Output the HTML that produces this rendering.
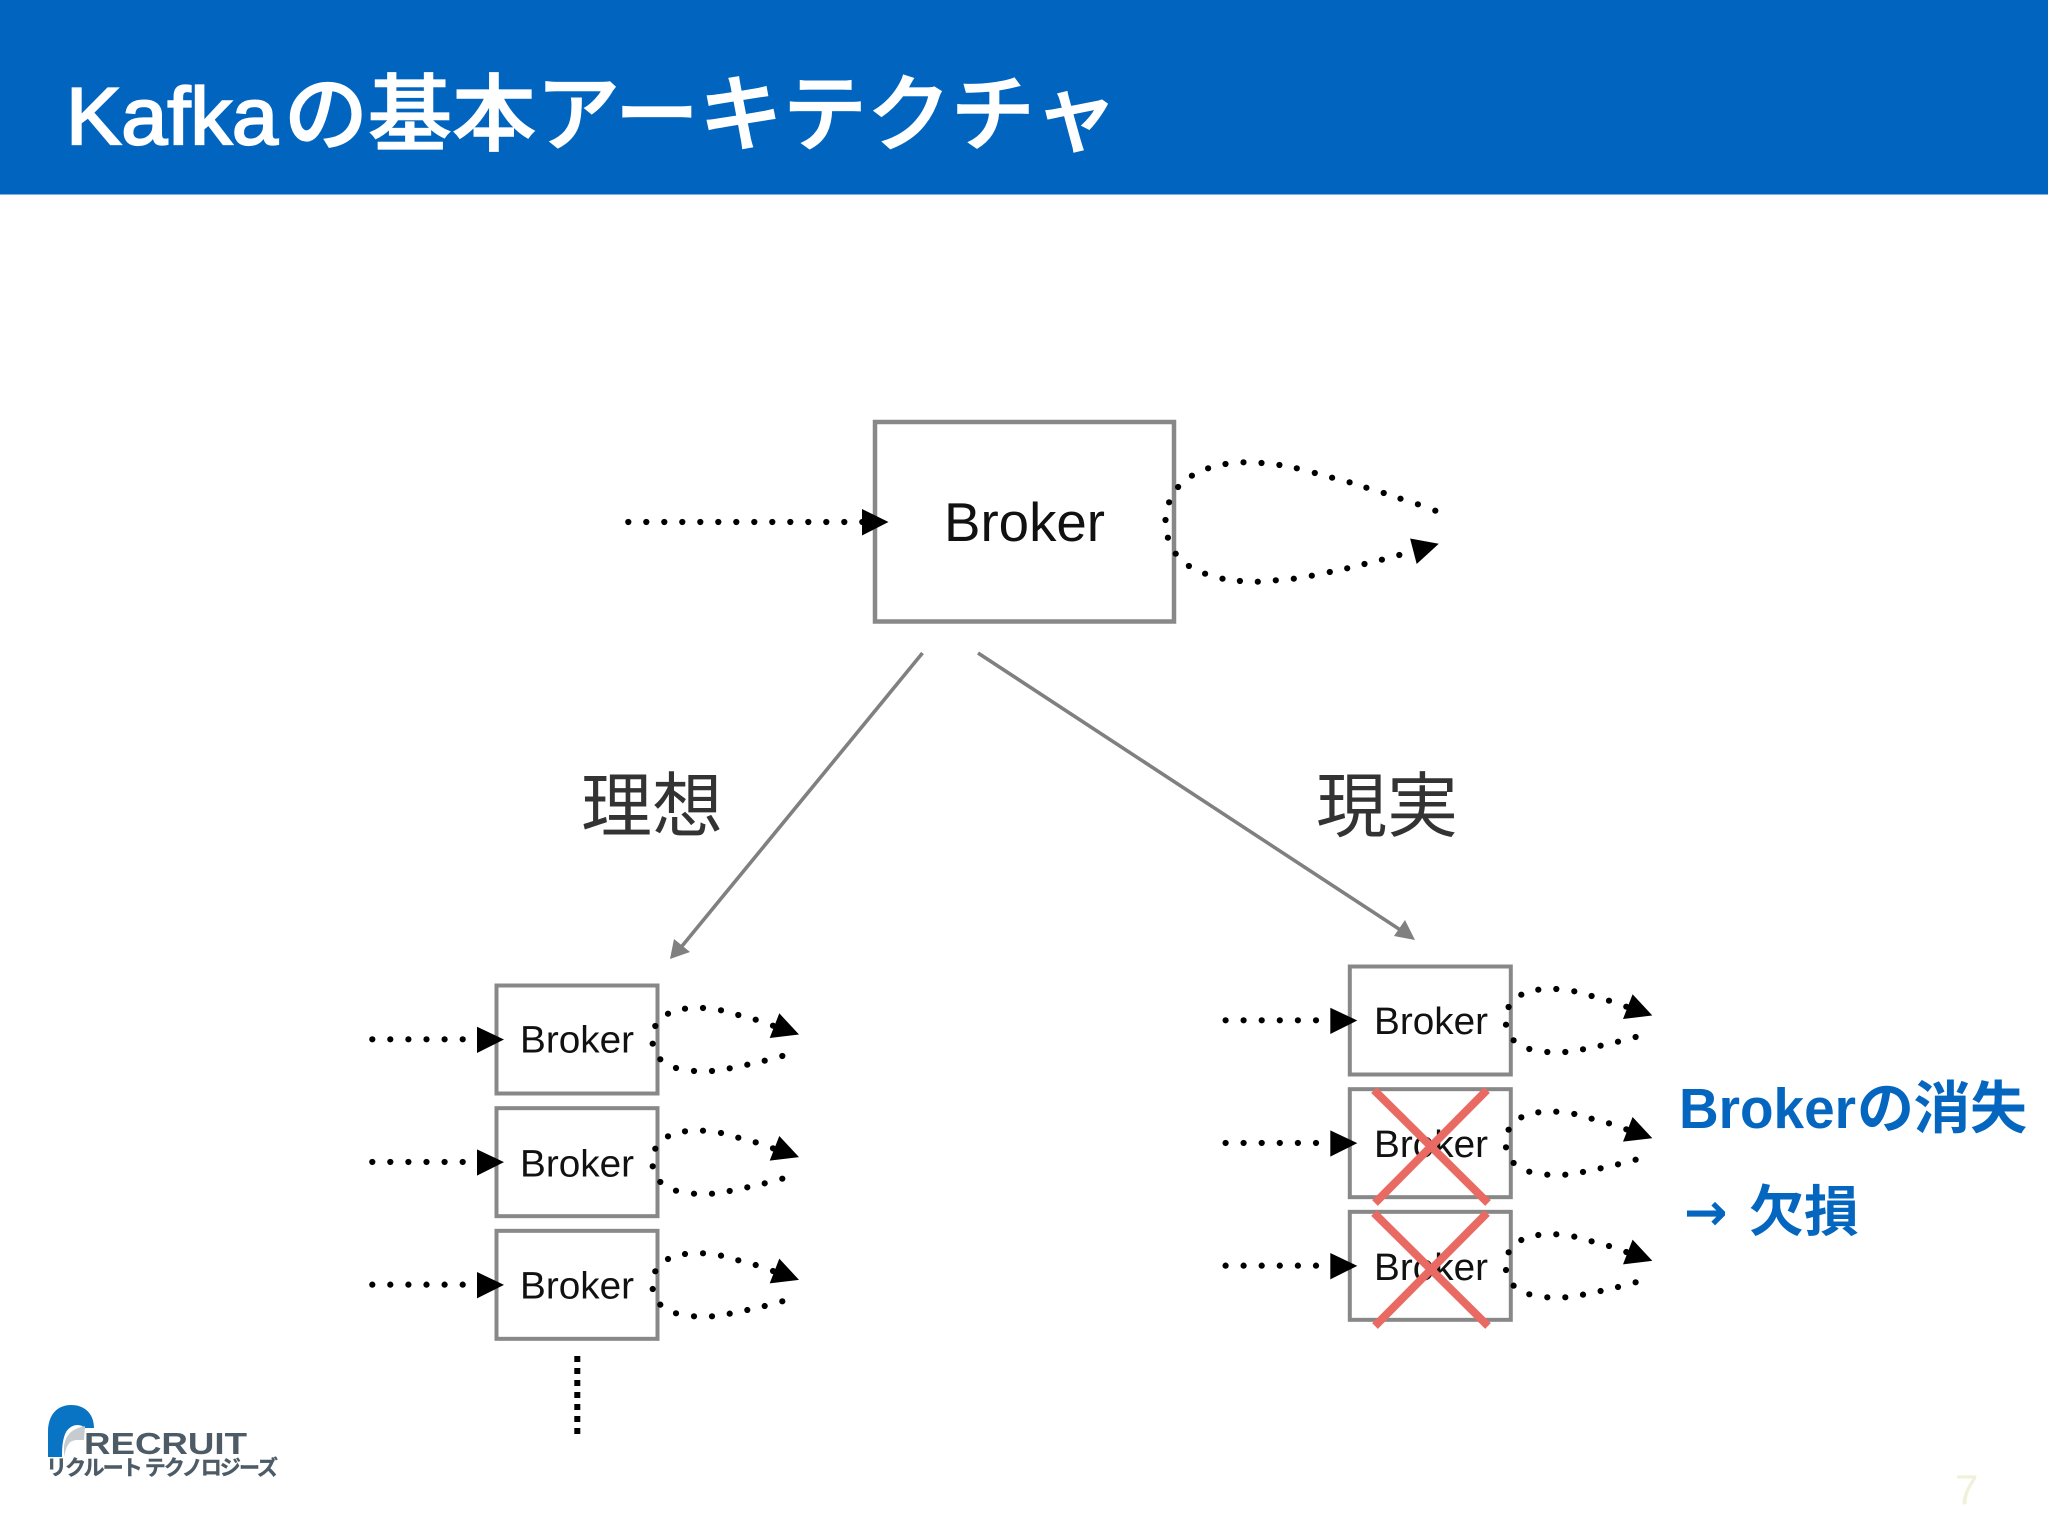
<!DOCTYPE html>
<html lang="ja"><head><meta charset="utf-8"><title>Kafkaの基本アーキテクチャ</title>
<style>
html,body{margin:0;padding:0;background:#fff;width:2048px;height:1536px;overflow:hidden}
svg{display:block}
text{font-family:"Liberation Sans","Noto Sans CJK JP",sans-serif}
</style></head><body>
<svg width="2048" height="1536" viewBox="0 0 2048 1536" xmlns="http://www.w3.org/2000/svg">
<defs>
<g id="row">
  <rect x="496.5" y="985.5" width="161" height="108" fill="#fff" stroke="#888" stroke-width="4"/>
  <g fill="#000">
    <circle cx="372.3" cy="1039.3" r="3.1"/><circle cx="390.3" cy="1039.3" r="3.1"/><circle cx="408.4" cy="1039.3" r="3.1"/><circle cx="426.5" cy="1039.3" r="3.1"/><circle cx="444.6" cy="1039.3" r="3.1"/><circle cx="462.7" cy="1039.3" r="3.1"/>
    <polygon points="477,1026.7 504,1039.5 477,1053"/>
    <circle cx="655.3" cy="1026" r="3.1"/><circle cx="652.7" cy="1043.7" r="3.1"/><circle cx="660.3" cy="1059.3" r="3.1"/><circle cx="676" cy="1068" r="3.1"/><circle cx="694" cy="1071" r="3.1"/><circle cx="712" cy="1071" r="3.1"/><circle cx="729.7" cy="1068.3" r="3.1"/><circle cx="747.3" cy="1064.7" r="3.1"/><circle cx="764.7" cy="1060.7" r="3.1"/><circle cx="782.3" cy="1056" r="3.1"/>
    <circle cx="668" cy="1013.7" r="3.1"/><circle cx="685" cy="1008.7" r="3.1"/><circle cx="703" cy="1008" r="3.1"/><circle cx="721" cy="1010.3" r="3.1"/><circle cx="738.3" cy="1015" r="3.1"/><circle cx="755.7" cy="1019.7" r="3.1"/><circle cx="773" cy="1025.7" r="3.1"/>
    <polygon points="779.3,1013.3 799,1034.5 769.7,1038"/>
  </g>
</g>
</defs>

<rect x="0" y="0" width="2048" height="194.5" fill="#0165c0"/>
<text y="144" fill="#fff" font-size="81" stroke="#fff" stroke-width="2.2"><tspan x="66" textLength="212" lengthAdjust="spacingAndGlyphs">Kafka</tspan></text>
<text x="284" y="144" fill="#fff" stroke="#fff" stroke-width="1.3" font-size="84" font-weight="500" textLength="834" lengthAdjust="spacing">の基本アーキテクチャ</text>

<rect x="875" y="422" width="299" height="199.5" fill="#fff" stroke="#888" stroke-width="4.5"/>
<text x="944" y="541" font-size="54.6" fill="#111" textLength="161" lengthAdjust="spacingAndGlyphs">Broker</text>
<g fill="#000">
<circle cx="628.3" cy="522" r="3.1"/><circle cx="646.3" cy="522" r="3.1"/><circle cx="664.3" cy="522" r="3.1"/><circle cx="682.3" cy="522" r="3.1"/><circle cx="700.3" cy="522" r="3.1"/><circle cx="718.3" cy="522" r="3.1"/><circle cx="736.3" cy="522" r="3.1"/><circle cx="754.3" cy="522" r="3.1"/><circle cx="772.3" cy="522" r="3.1"/><circle cx="790.3" cy="522" r="3.1"/><circle cx="808.3" cy="522" r="3.1"/><circle cx="826.3" cy="522" r="3.1"/><circle cx="844.3" cy="522" r="3.1"/><circle cx="862.3" cy="522" r="3.1"/>
<polygon points="862,509 888.5,522 862,535.5"/>
<circle cx="1178.1" cy="487" r="3.1"/><circle cx="1169.1" cy="502.3" r="3.1"/><circle cx="1165.5" cy="520" r="3.1"/><circle cx="1167.9" cy="537.7" r="3.1"/><circle cx="1175.7" cy="553.7" r="3.1"/><circle cx="1188.9" cy="566" r="3.1"/><circle cx="1205.1" cy="573.7" r="3.1"/><circle cx="1222.5" cy="578.7" r="3.1"/><circle cx="1239.9" cy="581" r="3.1"/><circle cx="1257.8" cy="581.7" r="3.1"/><circle cx="1275.8" cy="580.3" r="3.1"/><circle cx="1293.8" cy="578.7" r="3.1"/><circle cx="1311.8" cy="575.7" r="3.1"/><circle cx="1329.8" cy="572" r="3.1"/><circle cx="1347.2" cy="568.3" r="3.1"/><circle cx="1364.5" cy="564" r="3.1"/><circle cx="1381.9" cy="559.7" r="3.1"/><circle cx="1399.3" cy="555" r="3.1"/>
<circle cx="1191.9" cy="475.7" r="3.1"/><circle cx="1208.1" cy="468.3" r="3.1"/><circle cx="1225.5" cy="464" r="3.1"/><circle cx="1243.5" cy="462.3" r="3.1"/><circle cx="1261.5" cy="463" r="3.1"/><circle cx="1279.4" cy="465" r="3.1"/><circle cx="1296.8" cy="468.3" r="3.1"/><circle cx="1314.8" cy="473" r="3.1"/><circle cx="1332.1" cy="477.7" r="3.1"/><circle cx="1349.6" cy="482.3" r="3.1"/><circle cx="1366.4" cy="487.7" r="3.1"/><circle cx="1383.7" cy="493" r="3.1"/><circle cx="1400.5" cy="498.7" r="3.1"/><circle cx="1417.9" cy="504.3" r="3.1"/><circle cx="1435.3" cy="510.7" r="3.1"/>
<polygon points="1410.1,538.5 1438.8,543.7 1416.7,564"/>
</g>

<g stroke="#808080" stroke-width="3.6" fill="none">
<line x1="922.5" y1="653" x2="678" y2="951"/>
<line x1="978" y1="653" x2="1405" y2="933"/>
</g>
<polygon points="670,959 674,939 690,952" fill="#808080"/>
<polygon points="1415,940 1394,936 1405,920" fill="#808080"/>

<text x="581" y="831" font-size="71" fill="#333">理想</text>
<text x="1316" y="831" font-size="71" fill="#333">現実</text>

<use href="#row"/>
<use href="#row" transform="translate(0,122.67)"/>
<use href="#row" transform="translate(0,245.33)"/>
<text x="520" y="1052.5" font-size="38" fill="#111" textLength="114" lengthAdjust="spacingAndGlyphs">Broker</text>
<text x="520" y="1176.5" font-size="38" fill="#111" textLength="114" lengthAdjust="spacingAndGlyphs">Broker</text>
<text x="520" y="1298.5" font-size="38" fill="#111" textLength="114" lengthAdjust="spacingAndGlyphs">Broker</text>
<line x1="577.3" y1="1356" x2="577.3" y2="1434" stroke="#000" stroke-width="6" stroke-dasharray="6 6"/>

<use href="#row" transform="translate(853.3,-19)"/>
<use href="#row" transform="translate(853.3,103.67)"/>
<use href="#row" transform="translate(853.3,226.33)"/>
<text x="1374" y="1034" font-size="38" fill="#111" textLength="114" lengthAdjust="spacingAndGlyphs">Broker</text>
<text x="1374" y="1157" font-size="38" fill="#111" textLength="114" lengthAdjust="spacingAndGlyphs">Broker</text>
<text x="1374" y="1280" font-size="38" fill="#111" textLength="114" lengthAdjust="spacingAndGlyphs">Broker</text>
<g stroke="#e96a63" stroke-width="8" fill="none">
<line x1="1374" y1="1090" x2="1488" y2="1203"/><line x1="1487" y1="1090" x2="1375" y2="1203"/>
<line x1="1374" y1="1213" x2="1488" y2="1326"/><line x1="1487" y1="1213" x2="1375" y2="1326"/>
</g>

<text x="1679" y="1128" font-size="57" font-weight="700" fill="#0566bf" textLength="177" lengthAdjust="spacingAndGlyphs">Broker</text>
<text x="1857" y="1128" font-size="57" font-weight="700" fill="#0566bf" textLength="170" lengthAdjust="spacing">の消失</text>
<text x="1684" y="1230" font-size="52" font-weight="700" fill="#0566bf" style="font-family:'DejaVu Sans',sans-serif">→</text>
<text x="1749" y="1231" font-size="55" font-weight="700" fill="#0566bf">欠損</text>

<path d="M48 1457 L48 1432 C48 1414 58 1405 71 1405 C85 1405 94 1414 94 1428 L85 1428 C80 1423 71 1424 66 1432 C62 1440 62 1450 62 1457 Z" fill="#0a74c4"/>
<path d="M64 1446 C66 1434 72 1429 85 1426 L84 1440 L76 1440 C70 1441 67 1443 64 1457 Z" fill="#c6cbcf"/>
<text x="84" y="1454" font-size="31" font-weight="700" fill="#4c5b66" textLength="163" lengthAdjust="spacingAndGlyphs">RECRUIT</text>
<text x="46" y="1475" font-size="21" font-weight="700" fill="#4c5b66" stroke="#4c5b66" stroke-width=".4" textLength="232" lengthAdjust="spacing">リクルート テクノロジーズ</text>

<text x="1955" y="1504" font-size="42" fill="#f1f1da">7</text>
</svg>
</body></html>
